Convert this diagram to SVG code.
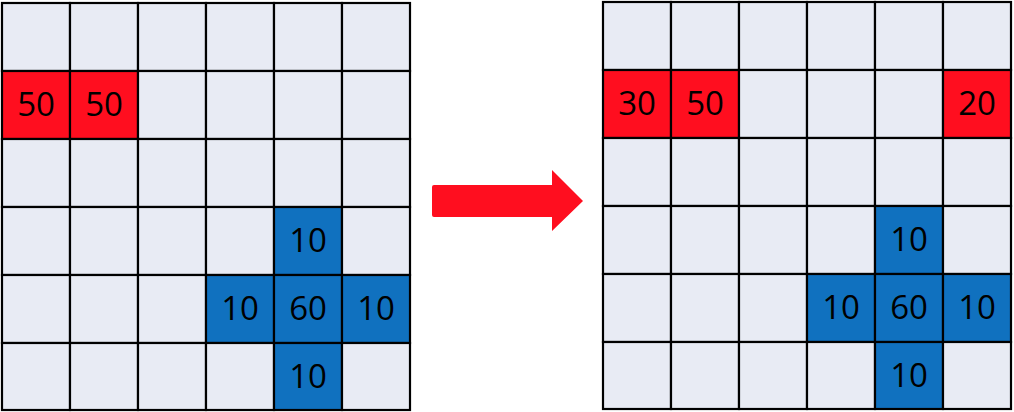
<svg xmlns="http://www.w3.org/2000/svg" width="1014" height="412" viewBox="0 0 1014 412">
<style>
.c{stroke:#000;stroke-width:2.2}
.g{fill:#E8EBF4}
.r{fill:#FF0E1F}
.b{fill:#1071BF}
text{font-family:"Open Sans","Liberation Sans",sans-serif;font-size:33px;fill:#000;text-anchor:middle}
</style>
<rect width="1014" height="412" fill="#fff"/>
<g id="left-grid">
<rect class="c g" x="2" y="3" width="68" height="68"/><rect class="c g" x="70" y="3" width="68" height="68"/><rect class="c g" x="138" y="3" width="68" height="68"/><rect class="c g" x="206" y="3" width="68" height="68"/><rect class="c g" x="274" y="3" width="68" height="68"/><rect class="c g" x="342" y="3" width="68" height="68"/>
<rect class="c r" x="2" y="71" width="68" height="68"/><rect class="c r" x="70" y="71" width="68" height="68"/><rect class="c g" x="138" y="71" width="68" height="68"/><rect class="c g" x="206" y="71" width="68" height="68"/><rect class="c g" x="274" y="71" width="68" height="68"/><rect class="c g" x="342" y="71" width="68" height="68"/>
<rect class="c g" x="2" y="139" width="68" height="68"/><rect class="c g" x="70" y="139" width="68" height="68"/><rect class="c g" x="138" y="139" width="68" height="68"/><rect class="c g" x="206" y="139" width="68" height="68"/><rect class="c g" x="274" y="139" width="68" height="68"/><rect class="c g" x="342" y="139" width="68" height="68"/>
<rect class="c g" x="2" y="207" width="68" height="68"/><rect class="c g" x="70" y="207" width="68" height="68"/><rect class="c g" x="138" y="207" width="68" height="68"/><rect class="c g" x="206" y="207" width="68" height="68"/><rect class="c b" x="274" y="207" width="68" height="68"/><rect class="c g" x="342" y="207" width="68" height="68"/>
<rect class="c g" x="2" y="275" width="68" height="68"/><rect class="c g" x="70" y="275" width="68" height="68"/><rect class="c g" x="138" y="275" width="68" height="68"/><rect class="c b" x="206" y="275" width="68" height="68"/><rect class="c b" x="274" y="275" width="68" height="68"/><rect class="c b" x="342" y="275" width="68" height="68"/>
<rect class="c g" x="2" y="343" width="68" height="67"/><rect class="c g" x="70" y="343" width="68" height="67"/><rect class="c g" x="138" y="343" width="68" height="67"/><rect class="c g" x="206" y="343" width="68" height="67"/><rect class="c b" x="274" y="343" width="68" height="67"/><rect class="c g" x="342" y="343" width="68" height="67"/>
<text x="36" y="116">50</text><text x="104" y="116">50</text>
<text x="308" y="252">10</text>
<text x="240" y="320">10</text><text x="308" y="320">60</text><text x="376" y="320">10</text>
<text x="308" y="388">10</text>
</g>
<g id="connectors">
<path id="arrow" d="M434,185 L552,185 L552,170 L583,201 L552,231 L552,217 L434,217 Q432,217 432,215 L432,187 Q432,185 434,185 Z" fill="#FF0E1F"/>
</g>
<g id="right-grid">
<rect class="c g" x="603" y="2" width="68" height="68"/><rect class="c g" x="671" y="2" width="68" height="68"/><rect class="c g" x="739" y="2" width="68" height="68"/><rect class="c g" x="807" y="2" width="68" height="68"/><rect class="c g" x="875" y="2" width="68" height="68"/><rect class="c g" x="943" y="2" width="68" height="68"/>
<rect class="c r" x="603" y="70" width="68" height="68"/><rect class="c r" x="671" y="70" width="68" height="68"/><rect class="c g" x="739" y="70" width="68" height="68"/><rect class="c g" x="807" y="70" width="68" height="68"/><rect class="c g" x="875" y="70" width="68" height="68"/><rect class="c r" x="943" y="70" width="68" height="68"/>
<rect class="c g" x="603" y="138" width="68" height="68"/><rect class="c g" x="671" y="138" width="68" height="68"/><rect class="c g" x="739" y="138" width="68" height="68"/><rect class="c g" x="807" y="138" width="68" height="68"/><rect class="c g" x="875" y="138" width="68" height="68"/><rect class="c g" x="943" y="138" width="68" height="68"/>
<rect class="c g" x="603" y="206" width="68" height="68"/><rect class="c g" x="671" y="206" width="68" height="68"/><rect class="c g" x="739" y="206" width="68" height="68"/><rect class="c g" x="807" y="206" width="68" height="68"/><rect class="c b" x="875" y="206" width="68" height="68"/><rect class="c g" x="943" y="206" width="68" height="68"/>
<rect class="c g" x="603" y="274" width="68" height="68"/><rect class="c g" x="671" y="274" width="68" height="68"/><rect class="c g" x="739" y="274" width="68" height="68"/><rect class="c b" x="807" y="274" width="68" height="68"/><rect class="c b" x="875" y="274" width="68" height="68"/><rect class="c b" x="943" y="274" width="68" height="68"/>
<rect class="c g" x="603" y="342" width="68" height="67"/><rect class="c g" x="671" y="342" width="68" height="67"/><rect class="c g" x="739" y="342" width="68" height="67"/><rect class="c g" x="807" y="342" width="68" height="67"/><rect class="c b" x="875" y="342" width="68" height="67"/><rect class="c g" x="943" y="342" width="68" height="67"/>
<text x="637" y="115">30</text><text x="705" y="115">50</text><text x="977" y="115">20</text>
<text x="909" y="251">10</text>
<text x="841" y="319">10</text><text x="909" y="319">60</text><text x="977" y="319">10</text>
<text x="909" y="387">10</text>
</g>
</svg>
